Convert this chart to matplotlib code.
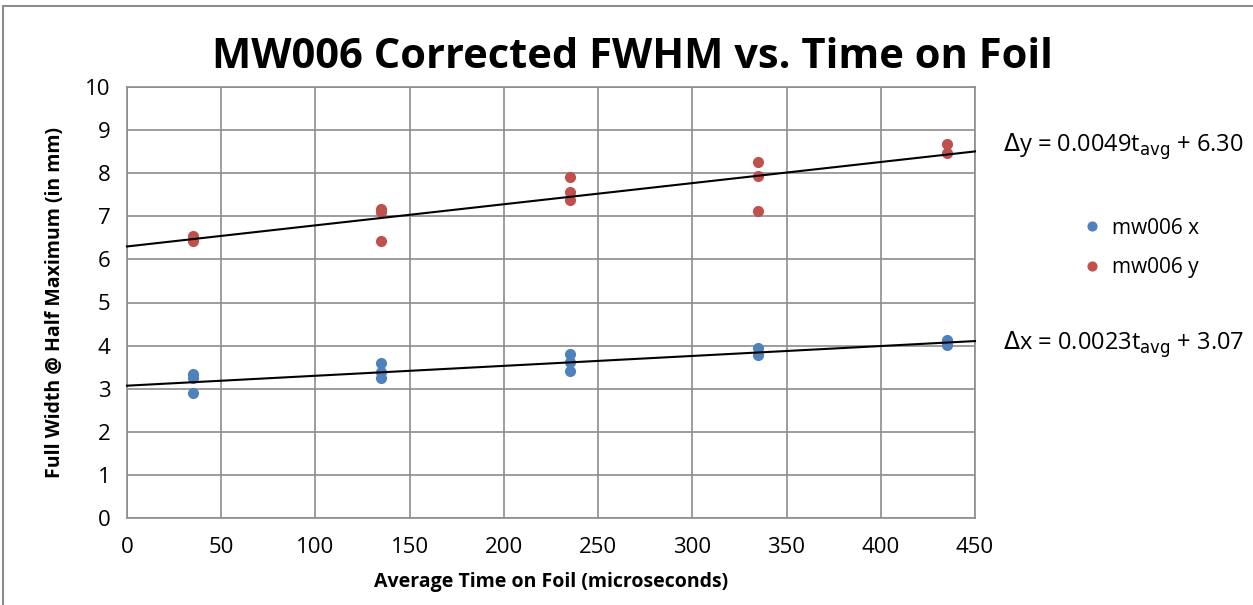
import numpy as np
import matplotlib.pyplot as plt

# time on foil (microseconds) for each measurement
t_x = [35, 35, 35, 135, 135, 135, 235, 235, 235, 335, 335, 435, 435]
fwhm_x = [3.33, 3.25, 2.90, 3.59, 3.38, 3.25, 3.80, 3.62, 3.42, 3.95, 3.78, 4.12, 4.01]
t_y = [35, 35, 135, 135, 135, 235, 235, 235, 335, 335, 335, 435, 435]
fwhm_y = [6.54, 6.43, 7.17, 7.11, 6.43, 7.92, 7.56, 7.38, 8.25, 7.94, 7.13, 8.68, 8.46]

# linear fits
slope_x, icept_x = 0.0023, 3.07
slope_y, icept_y = 0.0049, 6.30

blue = '#4F81BD'
red = '#C0504D'
plt.rcParams['font.family'] = ['Open Sans', 'DejaVu Sans']

fig = plt.figure(figsize=(12.53, 6.05), dpi=100)
ax = fig.add_axes([127/1253, 1-518/605, (975-127)/1253, (518-87)/605])

ax.plot(t_x, fwhm_x, 'o', color=blue, markersize=7, label='mw006 x', zorder=3)
ax.plot(t_y, fwhm_y, 'o', color=red, markersize=7, label='mw006 y', zorder=3)

tt = np.array([0, 450])
ax.plot(tt, slope_y*tt + icept_y, color='black', linewidth=1.5, zorder=4, clip_on=False)
ax.plot(tt, slope_x*tt + icept_x, color='black', linewidth=1.5, zorder=4, clip_on=False)

ax.set_xlim(0, 450)
ax.set_ylim(0, 10)
ax.set_xticks(range(0, 451, 50))
ax.set_yticks(range(0, 11))
ax.grid(True, color='#8c8c8c', linewidth=1.2)
ax.set_axisbelow(True)
for s in ax.spines.values():
    s.set_color('#8c8c8c')
    s.set_linewidth(1.2)
ax.tick_params(length=0, labelsize=16)
ax.tick_params(axis='x', pad=14)
ax.tick_params(axis='y', pad=12)

ax.set_xlabel('Average Time on Foil (microseconds)', fontsize=14, fontweight='bold', labelpad=10)
ax.set_ylabel('Full Width @ Half Maximum (in mm)', fontsize=14, fontweight='bold', labelpad=14)
fig.text(0.505, 1-57/605, 'MW006 Corrected FWHM vs. Time on Foil', ha='center', va='center',
         fontsize=30, fontweight='bold')

fig.text(1003/1253, 1-147/605, r'$\Delta$y = 0.0049t$_{\mathrm{avg}}$ + 6.30', fontsize=17,
         va='center', ha='left')
fig.text(1003/1253, 1-345/605, r'$\Delta$x = 0.0023t$_{\mathrm{avg}}$ + 3.07', fontsize=17,
         va='center', ha='left')

fig.legend(loc='center left', bbox_to_anchor=(1052/1253, 1-248/605), frameon=False,
           fontsize=15, handletextpad=0.0, markerscale=0.9, labelspacing=0.9)

# outer chart border
fig.patches.append(plt.Rectangle((0.002, -0.01), 1.2, 1.0, transform=fig.transFigure,
                                 fill=False, edgecolor='#8c8c8c', linewidth=1.5))

fig.savefig('out.png', dpi=100)
